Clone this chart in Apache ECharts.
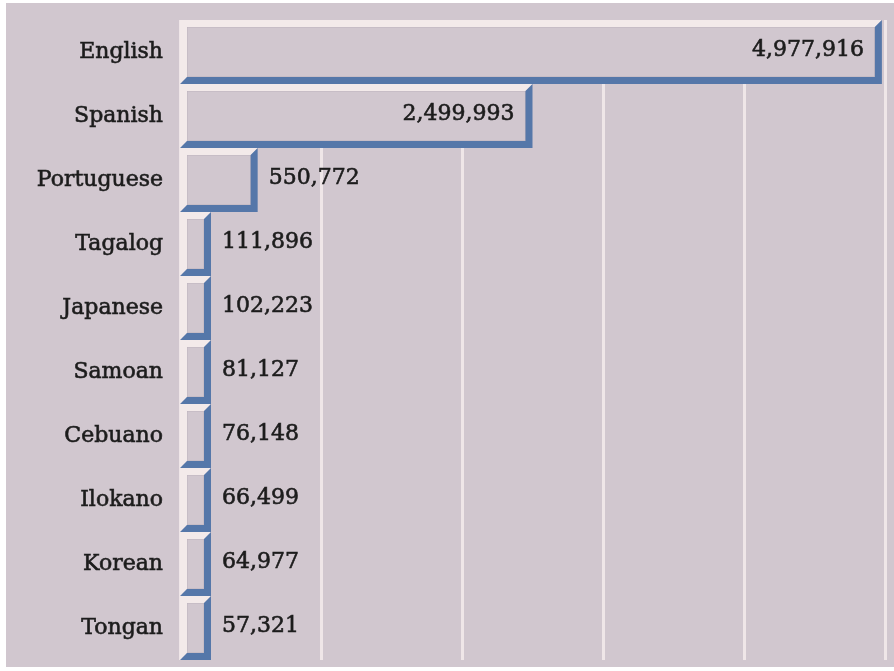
<!DOCTYPE html>
<html>
<head>
<meta charset="utf-8">
<script src="https://cdn.jsdelivr.net/npm/echarts@6/dist/echarts.min.js"></script>
<style>
  html, body { margin: 0; padding: 0; background: #ffffff; }
  #chart { position: absolute; left: 6px; top: 3px; width: 888px; height: 664px; background: #d1c7cf; }
</style>
</head>
<body>
<div id="chart"></div>
<script>
// languages spoken, in display order (top to bottom)
const languages = ['English', 'Spanish', 'Portuguese', 'Tagalog', 'Japanese',
  'Samoan', 'Cebuano', 'Ilokano', 'Korean', 'Tongan'];
const speakers = [4977916, 2499993, 550772, 111896, 102223,
  81127, 76148, 66499, 64977, 57321];
const axisTicks = [0, 1000000, 2000000, 3000000, 4000000, 5000000];

const BG = '#d1c7cf';
const LIGHT = '#f3eaea';
const BLUE = '#5577a9';
const TEXT = '#1c1c1c';
const FONT = '"DejaVu Serif", serif';
const BEVEL = 7;
const MIN_LEN = 31; // short bars still show their bevel

const chart = echarts.init(document.getElementById('chart'));

function renderBar(params, api) {
  const value = api.value(1);
  const start = api.coord([0, api.value(0)]);
  const end = api.coord([value, api.value(0)]);
  const band = api.size([0, 1])[1];
  const L = start[0];
  const R = Math.max(end[0], L + MIN_LEN);
  const T = end[1] - band / 2;
  const B = end[1] + band / 2;
  const b = BEVEL;
  const inside = value > 1000000;
  const label = value.toLocaleString('en-US');
  return {
    type: 'group',
    children: [
      {
        type: 'rect',
        shape: {x: L + b, y: T + b, width: R - L - 2 * b, height: B - T - 2 * b},
        style: {fill: BG, stroke: '#bdb3bd', lineWidth: 1}
      },
      {
        type: 'polygon',
        shape: {points: [[L, T], [R, T], [R - b, T + b], [L + b, T + b], [L + b, B - b], [L, B]]},
        style: {fill: LIGHT}
      },
      {
        type: 'polygon',
        shape: {points: [[R, T], [R, B], [L, B], [L + b, B - b], [R - b, B - b], [R - b, T + b]]},
        style: {fill: BLUE}
      },
      {
        type: 'text',
        style: {
          text: label,
          x: inside ? R - 18 : R + 11,
          y: end[1] - 2,
          align: inside ? 'right' : 'left',
          verticalAlign: 'middle',
          fill: TEXT,
          stroke: TEXT,
          lineWidth: 0.6,
          font: '22px ' + FONT
        }
      }
    ]
  };
}

chart.setOption({
  animation: false,
  grid: {left: 174, right: 9, top: 17, bottom: 7, containLabel: false},
  xAxis: {
    type: 'value',
    min: axisTicks[0],
    max: axisTicks[axisTicks.length - 1],
    interval: axisTicks[1] - axisTicks[0],
    axisLabel: {show: false},
    axisLine: {show: false},
    axisTick: {show: false},
    splitLine: {show: true, lineStyle: {color: '#efe6e8', width: 3}}
  },
  yAxis: {
    type: 'category',
    inverse: true,
    data: languages,
    axisLine: {show: false},
    axisTick: {show: false},
    axisLabel: {
      margin: 17,
      color: TEXT,
      fontFamily: FONT,
      fontSize: 22,
      textBorderColor: TEXT,
      textBorderWidth: 0.6,
      padding: [0, 0, 3, 0]
    }
  },
  series: [{
    type: 'custom',
    renderItem: renderBar,
    encode: {x: 1, y: 0},
    data: languages.map((name, i) => [i, speakers[i]])
  }]
});
</script>
</body>
</html>
